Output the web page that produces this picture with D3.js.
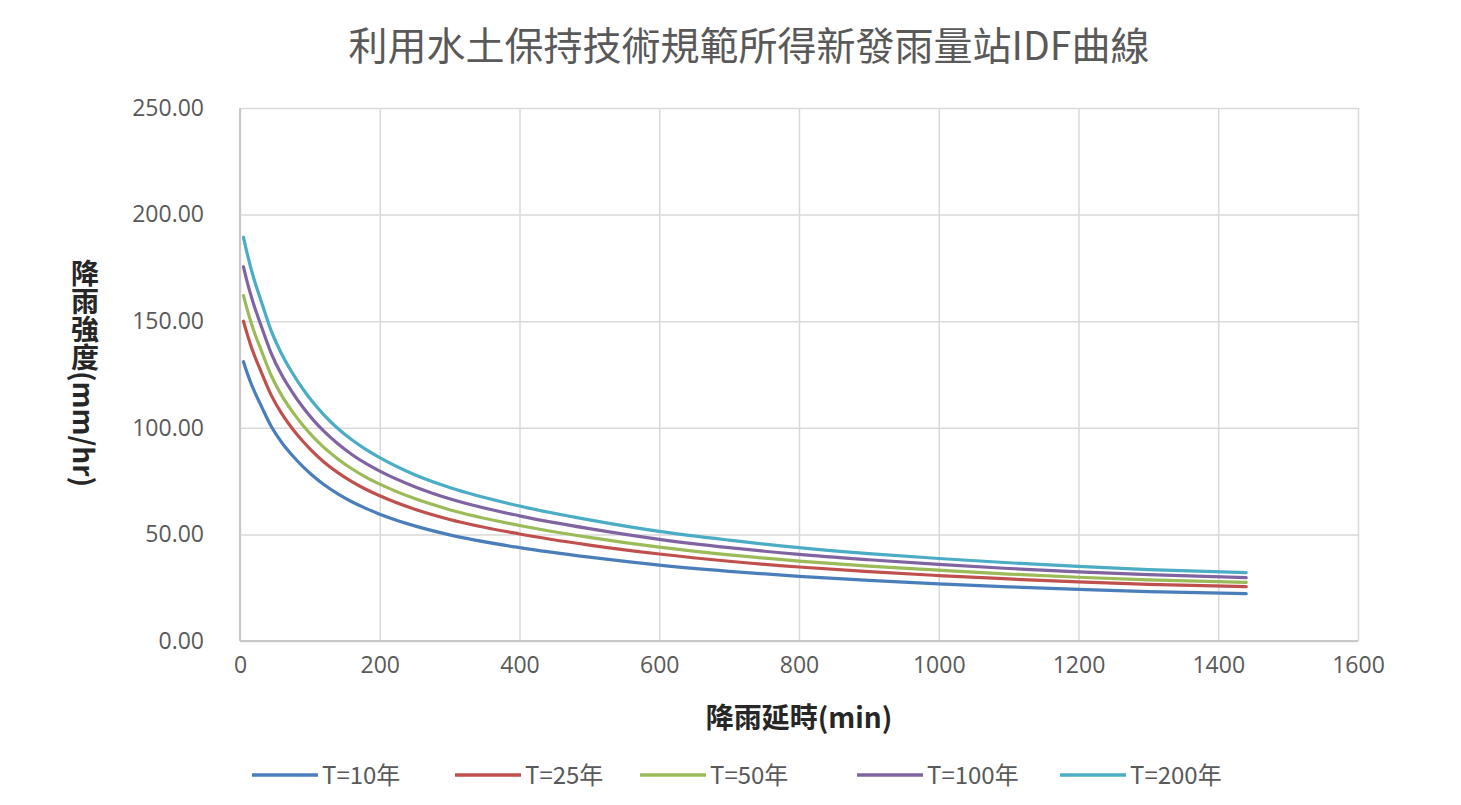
<!DOCTYPE html>
<html>
<head>
<meta charset="utf-8">
<script src="https://cdn.jsdelivr.net/npm/d3@7"></script>
<style>
  body { margin: 0; background: #fff; }
  .grid line { stroke: #d9d9d9; stroke-width: 1.5; }
  .grid path { stroke: none; }
  .tick text { fill: #595959; }
</style>
</head>
<body>
<div id="wrapper"></div>
<script>
// durations (min)
const durations = [5, 10, 15, 20, 30, 45, 60, 75, 90, 105, 120, 140, 160, 180, 200, 250, 300, 400, 500, 600, 700, 800, 900, 1000, 1100, 1200, 1300, 1440]

// intensities (mm/hr)
const t10 = [131, 126, 121.5, 117.5, 110.5, 100.5, 93, 87, 81.8, 77.3, 73.4, 69, 65.3, 62.2, 59.5, 54, 49.8, 43.8, 39.3, 35.6, 32.7, 30.3, 28.4, 26.8, 25.4, 24.2, 23.2, 22.2]
const t25 = [150, 144.3, 139.1, 134.5, 126.5, 115.1, 106.5, 99.6, 93.7, 88.5, 84, 79, 74.8, 71.2, 68.1, 61.8, 57, 50.2, 45, 40.8, 37.4, 34.7, 32.5, 30.7, 29.1, 27.7, 26.6, 25.5]
const t50 = [162, 155.9, 150.3, 145.3, 136.7, 124.3, 115, 107.6, 101.2, 95.6, 90.8, 85.4, 80.8, 76.9, 73.6, 66.8, 61.6, 54.2, 48.6, 44, 40.4, 37.5, 35.1, 33.2, 31.4, 29.9, 28.7, 27.5]
const t100 = [175.5, 168.8, 162.8, 157.5, 148.1, 134.7, 124.6, 116.6, 109.6, 103.6, 98.4, 92.5, 87.5, 83.3, 79.7, 72.4, 66.7, 58.7, 52.7, 47.7, 43.8, 40.6, 38.1, 35.9, 34, 32.4, 31.1, 29.7]
const t200 = [189.3, 182.1, 175.6, 169.8, 159.7, 145.2, 134.4, 125.7, 118.2, 111.7, 106.1, 99.7, 94.4, 89.9, 86, 78, 72, 63.3, 56.8, 51.4, 47.3, 43.8, 41, 38.7, 36.7, 35, 33.5, 32.1]

const seriesNames = ["T=10年", "T=25年", "T=50年", "T=100年", "T=200年"]
const seriesColors = ["#4a7ebb", "#c0504d", "#9bbb59", "#8064a2", "#4bacc6"]
const seriesValues = [t10, t25, t50, t100, t200]

const xTicks = [0, 200, 400, 600, 800, 1000, 1200, 1400, 1600]
const yTicks = [0, 50, 100, 150, 200, 250]

const titleText = "利用水土保持技術規範所得新發雨量站IDF曲線"
const xTitle = "降雨延時(min)"
const yTitle = "降雨強度(mm/hr)"

const cjk = "'Noto Sans CJK TC', 'Noto Sans', sans-serif"

let dimensions = {
  width: 1461,
  height: 805,
  margin: { top: 108, right: 103, bottom: 164, left: 240 },
}
dimensions.boundedWidth = dimensions.width - dimensions.margin.left - dimensions.margin.right
dimensions.boundedHeight = dimensions.height - dimensions.margin.top - dimensions.margin.bottom

const wrapper = d3.select("#wrapper")
  .append("svg")
  .attr("width", dimensions.width)
  .attr("height", dimensions.height)

const bounds = wrapper.append("g")
  .attr("transform", `translate(${dimensions.margin.left},${dimensions.margin.top})`)

const xScale = d3.scaleLinear()
  .domain([0, 1600])
  .range([0, dimensions.boundedWidth])

const yScale = d3.scaleLinear()
  .domain([0, 250])
  .range([dimensions.boundedHeight, 0])

// grids
bounds.append("g")
  .attr("class", "grid")
  .call(d3.axisLeft(yScale).tickValues(yTicks).tickSize(-dimensions.boundedWidth).tickFormat(""))

bounds.append("g")
  .attr("class", "grid")
  .call(d3.axisBottom(xScale).tickValues(xTicks).tickSize(dimensions.boundedHeight).tickFormat(""))

// axis lines
bounds.append("line")
  .attr("x1", 0).attr("x2", 0)
  .attr("y1", 0).attr("y2", dimensions.boundedHeight)
  .attr("stroke", "#c8c8c8").attr("stroke-width", 2)
bounds.append("line")
  .attr("x1", 0).attr("x2", dimensions.boundedWidth)
  .attr("y1", dimensions.boundedHeight).attr("y2", dimensions.boundedHeight)
  .attr("stroke", "#c8c8c8").attr("stroke-width", 2)

// tick labels
const yAxis = bounds.append("g")
  .call(d3.axisLeft(yScale).tickValues(yTicks).tickSize(0).tickPadding(36).tickFormat(d3.format(".2f")))
yAxis.select(".domain").remove()
yAxis.selectAll("text")
  .style("font-family", "'Open Sans', sans-serif")
  .style("font-size", "23px")

const xAxis = bounds.append("g")
  .attr("transform", `translate(0,${dimensions.boundedHeight})`)
  .call(d3.axisBottom(xScale).tickValues(xTicks).tickSize(0).tickPadding(16).tickFormat(d3.format("d")))
xAxis.select(".domain").remove()
xAxis.selectAll("text")
  .style("font-family", "'Open Sans', sans-serif")
  .style("font-size", "23px")

// lines
const lineGenerator = d3.line()
  .x((d, i) => xScale(durations[i]))
  .y(d => yScale(d))
  .curve(d3.curveMonotoneX)

seriesValues.forEach((values, i) => {
  bounds.append("path")
    .attr("d", lineGenerator(values))
    .attr("fill", "none")
    .attr("stroke", seriesColors[i])
    .attr("stroke-width", 3.2)
    .attr("stroke-linecap", "round")
})

// titles
wrapper.append("text")
  .attr("x", 749)
  .attr("y", 60)
  .attr("text-anchor", "middle")
  .attr("fill", "#595959")
  .style("font-family", cjk)
  .style("font-size", "39px")
  .text(titleText)

wrapper.append("text")
  .attr("x", dimensions.margin.left + xScale(800))
  .attr("y", 728)
  .attr("text-anchor", "middle")
  .attr("fill", "#262626")
  .style("font-family", cjk)
  .style("font-size", "28px")
  .style("font-weight", "bold")
  .text(xTitle)

wrapper.append("text")
  .attr("x", 85)
  .attr("y", 373)
  .attr("text-anchor", "middle")
  .attr("fill", "#262626")
  .style("writing-mode", "vertical-rl")
  .style("font-family", cjk)
  .style("font-size", "28px")
  .style("font-weight", "bold")
  .text(yTitle)

// legend
const legendX = [252, 455, 640, 857, 1060]
const legend = wrapper.append("g")
seriesNames.forEach((name, i) => {
  const g = legend.append("g").attr("transform", `translate(${legendX[i]},775)`)
  g.append("line")
    .attr("x1", 0).attr("x2", 66)
    .attr("stroke", seriesColors[i])
    .attr("stroke-width", 3.5)
  g.append("text")
    .attr("x", 70)
    .attr("y", 9)
    .attr("fill", "#595959")
    .style("font-family", cjk)
    .style("font-size", "24px")
    .text(name)
})
</script>
</body>
</html>
